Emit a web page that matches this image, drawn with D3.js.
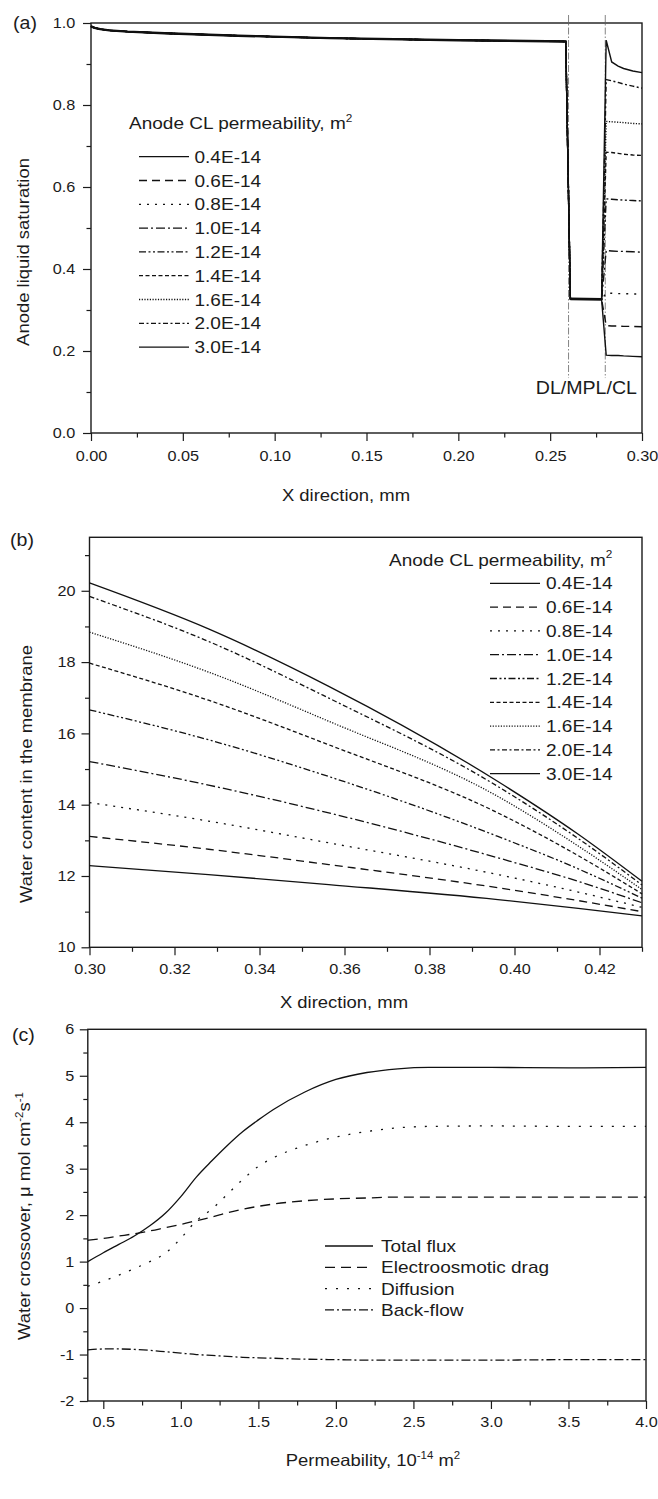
<!DOCTYPE html>
<html>
<head>
<meta charset="utf-8">
<script src="https://cdn.jsdelivr.net/npm/d3@7"></script>
<style>
  body { margin: 0; background: #fff; }
</style>
</head>
<body>
<div id="chart"></div>
<script>
// ---------- data ----------
const permLabels = ["0.4E-14", "0.6E-14", "0.8E-14", "1.0E-14", "1.2E-14", "1.4E-14", "1.6E-14", "2.0E-14", "3.0E-14"];

// (a) anode liquid saturation: DL and MPL parts are shared by every curve
const satDLx = [0, 0.002, 0.005, 0.01, 0.02, 0.04, 0.08, 0.13, 0.2, 0.2585];
const satDLy = [0.992, 0.988, 0.985, 0.982, 0.979, 0.975, 0.969, 0.963, 0.958, 0.955];
const satMPLx = [0.261, 0.278];
const satMPLy = [0.327, 0.326];
const satCLx = [0.2805, 0.2835, 0.287, 0.29, 0.295, 0.30];
const satCL = [
  [0.190, 0.189, 0.189, 0.188, 0.187, 0.186],
  [0.262, 0.261, 0.261, 0.260, 0.260, 0.259],
  [0.341, 0.341, 0.340, 0.340, 0.339, 0.339],
  [0.445, 0.444, 0.443, 0.443, 0.442, 0.441],
  [0.571, 0.570, 0.569, 0.568, 0.567, 0.566],
  [0.685, 0.684, 0.682, 0.680, 0.678, 0.677],
  [0.760, 0.759, 0.758, 0.757, 0.755, 0.754],
  [0.862, 0.859, 0.855, 0.851, 0.846, 0.841],
  [0.958, 0.905, 0.895, 0.889, 0.883, 0.879]
];
const interfaceX = [0.26, 0.28];

// (b) water content in the membrane
const memX = [0.30, 0.328, 0.3563, 0.3961, 0.415, 0.43];
const memLambda = [
  [12.29, 12.04, 11.76, 11.34, 11.09, 10.88],
  [13.11, 12.75, 12.32, 11.67, 11.31, 11.00],
  [14.06, 13.54, 12.93, 12.04, 11.55, 11.12],
  [15.21, 14.55, 13.77, 12.51, 11.85, 11.25],
  [16.66, 15.82, 14.79, 13.11, 12.20, 11.38],
  [17.97, 16.93, 15.68, 13.77, 12.57, 11.50],
  [18.84, 17.72, 16.34, 14.23, 12.84, 11.62],
  [19.84, 18.58, 16.99, 14.51, 13.05, 11.75],
  [20.22, 18.93, 17.32, 14.65, 13.17, 11.85]
];

// (c) water crossover vs permeability
const fluxNames = ["Total flux", "Electroosmotic drag", "Diffusion", "Back-flow"];
const permX = [0.4, 0.5, 0.6, 0.7, 0.8, 0.9, 1.0, 1.1, 1.2, 1.3, 1.4, 1.5, 1.6, 1.8, 2.0, 2.2, 2.4, 2.6, 3.0, 3.5, 4.0];
const totalFlux = [1.00, 1.19, 1.37, 1.55, 1.77, 2.04, 2.40, 2.82, 3.17, 3.50, 3.80, 4.05, 4.28, 4.65, 4.92, 5.07, 5.15, 5.18, 5.18, 5.17, 5.18];
const dragFlux = [1.46, 1.50, 1.55, 1.60, 1.66, 1.73, 1.80, 1.88, 1.96, 2.05, 2.13, 2.19, 2.24, 2.31, 2.35, 2.37, 2.39, 2.39, 2.39, 2.39, 2.39];
const diffFlux = [0.47, 0.58, 0.71, 0.85, 1.00, 1.18, 1.50, 1.88, 2.13, 2.45, 2.77, 3.05, 3.24, 3.50, 3.68, 3.80, 3.88, 3.91, 3.92, 3.91, 3.91];
const backFlux = [-0.90, -0.88, -0.88, -0.89, -0.91, -0.94, -0.97, -1.00, -1.02, -1.04, -1.06, -1.07, -1.08, -1.10, -1.11, -1.12, -1.12, -1.12, -1.12, -1.11, -1.11];

// ---------- styles ----------
const permDash = ["", "8,5", "2,6", "9,3,2,3", "7,2.5,2,2.5,2,2.5", "4,2.5", "1.2,1.5", "5,2.5,2,2.5", ""];
const fluxDash = ["", "10,6", "2,9", "9,3,2,3"];
const INK = "#1b1b1b";
const FONT = "Arial, 'Liberation Sans', Helvetica, sans-serif";
const SX = 1.12; // the original lettering is a bit wider than Arial

const W = 658, H = 1499;
const svg = d3.select("#chart").append("svg").attr("width", W).attr("height", H);
svg.append("rect").attr("width", W).attr("height", H).attr("fill", "#fff");

// text with optional superscript parts: [[str, isSup], ...]
function addText(g, x, y, parts, o = {}) {
  const size = o.size || 17;
  const t = g.append("text")
    .attr("transform", `translate(${x},${y}) rotate(${o.rotate || 0}) scale(${SX},1)`)
    .attr("text-anchor", o.anchor || "start")
    .style("font-family", FONT)
    .style("font-size", size + "px")
    .attr("fill", INK);
  let up = 0;
  (typeof parts === "string" ? [[parts]] : parts).forEach(([s, sup]) => {
    const shift = sup ? -0.42 * size : 0;
    t.append("tspan")
      .attr("dy", shift - up)
      .style("font-size", sup ? (size * 0.62) + "px" : null)
      .text(s);
    up = shift;
  });
  return t;
}

function drawAxes(g, x, y, ax) {
  const bottom = y.range()[0], top = y.range()[1];
  const left = x.range()[0], right = x.range()[1];

  const styleAxis = sel => {
    sel.select(".domain").remove();
    sel.selectAll(".tick line").attr("stroke", INK).attr("stroke-width", 1.2);
    sel.selectAll(".tick text")
      .style("font-family", FONT).style("font-size", "14.5px")
      .attr("fill", INK)
      .attr("transform", `scale(${SX},1)`);
  };

  g.append("g").attr("transform", `translate(0,${bottom})`)
    .call(d3.axisBottom(x).tickValues(ax.xMinor).tickSize(4.5).tickFormat(""))
    .call(styleAxis);
  g.append("g").attr("transform", `translate(0,${bottom})`)
    .call(d3.axisBottom(x).tickValues(ax.xMajor).tickSize(8).tickPadding(ax.padX).tickFormat(ax.xFmt))
    .call(styleAxis);
  g.append("g").attr("transform", `translate(${left},0)`)
    .call(d3.axisLeft(y).tickValues(ax.yMinor).tickSize(4.5).tickFormat(""))
    .call(styleAxis);
  g.append("g").attr("transform", `translate(${left},0)`)
    .call(d3.axisLeft(y).tickValues(ax.yMajor).tickSize(8).tickPadding(ax.padY).tickFormat(ax.yFmt))
    .call(styleAxis);

  g.append("rect")
    .attr("x", left).attr("y", top)
    .attr("width", right - left).attr("height", bottom - top)
    .attr("fill", "none").attr("stroke", INK).attr("stroke-width", 1.4);
}

function strokeLine(g, path, dash, w) {
  return g.append("path")
    .attr("d", path)
    .attr("fill", "none")
    .attr("stroke", "#111")
    .attr("stroke-width", w || 1.3)
    .attr("stroke-dasharray", dash || null);
}

function legendRow(g, x1, x2, y, dash, tx, label) {
  strokeLine(g, d3.line()([[x1, y], [x2, y]]), dash);
  addText(g, tx, y + 6, label);
}

const range = (a, b, s) => d3.range(a, b + s / 2, s).map(v => +v.toFixed(4));

// ================= (a) =================
{
  const g = svg.append("g");
  const x = d3.scaleLinear().domain([0, 0.30]).range([91, 642]);
  const y = d3.scaleLinear().domain([0, 1.0]).range([433, 23]);

  // DL | MPL | CL interfaces
  interfaceX.forEach(v => {
    g.append("line")
      .attr("x1", x(v)).attr("x2", x(v))
      .attr("y1", y(1.0) - 8).attr("y2", y(0.134))
      .attr("stroke", "#666").attr("stroke-width", 0.8)
      .attr("stroke-dasharray", "7,2,1.5,2");
  });

  drawAxes(g, x, y, {
    xMajor: range(0, 0.30, 0.05), xMinor: range(0.025, 0.275, 0.05),
    yMajor: range(0, 1.0, 0.2), yMinor: range(0.1, 0.9, 0.2),
    xFmt: d3.format(".2f"), yFmt: d3.format(".1f"), padX: 10, padY: 6
  });

  const line = d3.line().x(d => x(d[0])).y(d => y(d[1]));
  // all nine curves lie on top of each other in DL and MPL, which reads as a heavier stroke
  strokeLine(g, line(satDLx.map((v, j) => [v, satDLy[j]])), null, 2.4);
  strokeLine(g, line(satMPLx.map((v, j) => [v, satMPLy[j]])), null, 2.8);
  satCL.forEach((cl, i) => {
    const pts = satDLx.map((v, j) => [v, satDLy[j]])
      .concat(satMPLx.map((v, j) => [v, satMPLy[j]]))
      .concat(satCLx.map((v, j) => [v, cl[j]]));
    strokeLine(g, line(pts), permDash[i], 1.4);
  });

  addText(g, 129, 129, [["Anode CL permeability, m"], ["2", true]]);
  permLabels.forEach((lab, i) => {
    legendRow(g, 139, 189, 156.7 + 23.8 * i, permDash[i], 194.5, lab);
  });

  addText(g, 637, 394, "DL/MPL/CL", { anchor: "end", size: 17.5 });
  addText(g, 13, 29, "(a)", { size: 17.5 });
  addText(g, 28.5, 252, "Anode liquid saturation", { anchor: "middle", rotate: -90, size: 16.5 });
  addText(g, 346, 501, "X direction, mm", { anchor: "middle", size: 16.5 });
}

// ================= (b) =================
{
  const g = svg.append("g");
  const x = d3.scaleLinear().domain([0.30, 0.43]).range([89.5, 642]);
  const y = d3.scaleLinear().domain([10, 21.5]).range([947.3, 537.3]);

  drawAxes(g, x, y, {
    xMajor: range(0.30, 0.42, 0.02), xMinor: range(0.31, 0.43, 0.02),
    yMajor: range(10, 20, 2), yMinor: range(11, 21, 2),
    xFmt: d3.format(".2f"), yFmt: d3.format("d"), padX: 8.5, padY: 4.5
  });

  const line = d3.line().x(d => x(d[0])).y(d => y(d[1])).curve(d3.curveMonotoneX);
  memLambda.forEach((vals, i) => {
    strokeLine(g, line(memX.map((v, j) => [v, vals[j]])), permDash[i]);
  });

  addText(g, 389, 565.5, [["Anode CL permeability, m"], ["2", true]]);
  permLabels.forEach((lab, i) => {
    legendRow(g, 490, 540, 583.3 + 23.8 * i, permDash[i], 546, lab);
  });

  addText(g, 10, 546, "(b)", { size: 17.5 });
  addText(g, 31.5, 774, "Water content in the membrane", { anchor: "middle", rotate: -90, size: 16.5 });
  addText(g, 344, 1007.5, "X direction, mm", { anchor: "middle", size: 16.5 });
}

// ================= (c) =================
{
  const g = svg.append("g");
  const x = d3.scaleLinear().domain([0.4, 4.0]).range([87.8, 646]);
  const y = d3.scaleLinear().domain([-2, 6]).range([1401, 1029.3]);

  drawAxes(g, x, y, {
    xMajor: range(0.5, 4.0, 0.5), xMinor: range(0.75, 3.75, 0.5),
    yMajor: range(-2, 6, 1), yMinor: range(-1.5, 5.5, 1),
    xFmt: d3.format(".1f"), yFmt: d => String(d), padX: 7.5, padY: 4
  });

  const line = d3.line().x(d => x(d[0])).y(d => y(d[1])).curve(d3.curveMonotoneX);
  [totalFlux, dragFlux, diffFlux, backFlux].forEach((vals, i) => {
    strokeLine(g, line(permX.map((v, j) => [v, vals[j]])), fluxDash[i]);
  });

  fluxNames.forEach((lab, i) => {
    legendRow(g, 325, 373, 1246 + 21.3 * i, fluxDash[i], 381, lab);
  });

  addText(g, 12, 1041, "(c)", { size: 17.5 });
  addText(g, 29.5, 1216, [["Water crossover, \u03bc mol cm"], ["-2", true], ["s"], ["-1", true]],
    { anchor: "middle", rotate: -90, size: 16.5 });
  addText(g, 373, 1466, [["Permeability, 10"], ["-14", true], [" m"], ["2", true]],
    { anchor: "middle", size: 16.5 });
}
</script>
</body>
</html>
